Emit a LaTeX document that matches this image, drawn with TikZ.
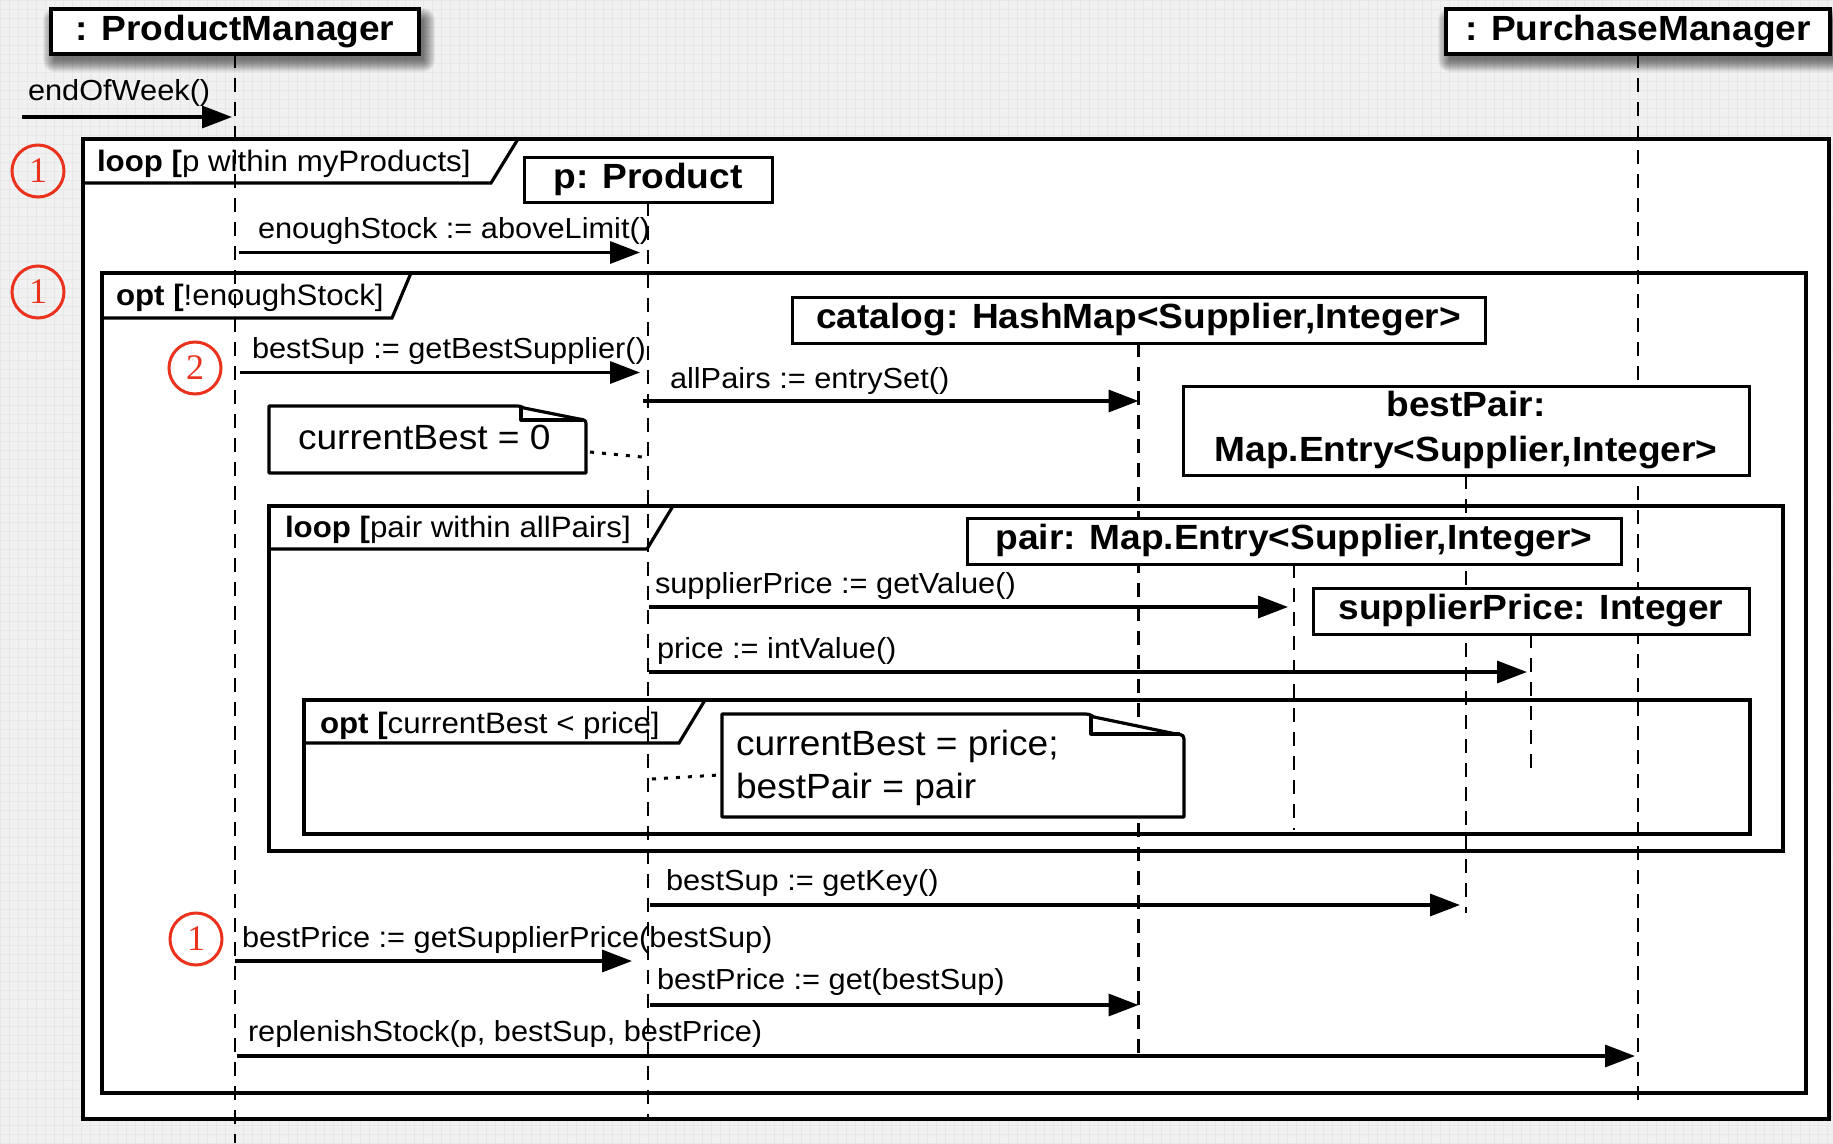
\documentclass[tikz,border=0pt]{standalone}
\usepackage{fontspec}
\setmainfont{Liberation Sans}[FakeStretch=1.06]
\newfontfamily\digitfont{Liberation Serif}
\usetikzlibrary{arrows.meta,calc}
\definecolor{bgcol}{RGB}{241,241,241}
\definecolor{gridcol}{RGB}{231,231,231}
\definecolor{markred}{RGB}{234,50,28}
\begin{document}
\begin{tikzpicture}[x=1pt,y=-1pt,
  every node/.style={inner sep=0pt,outer sep=0pt},
  actor/.style={draw,line width=3.2pt,fill=white,minimum height=45pt,
    font=\fontsize{35}{42}\selectfont\bfseries},
  object/.style={draw,line width=3pt,fill=white,minimum height=46pt,
    font=\fontsize{35}{45}\selectfont\bfseries},
  lifeline/.style={line width=2.6pt,dash pattern=on 14pt off 10pt},
  msg/.style={line width=3.4pt,-{Triangle[length=30pt,width=22pt]}},
  msglabel/.style={anchor=base west,font=\fontsize{29}{34}\selectfont},
  fragbox/.style={draw,line width=3.2pt,fill=white},
  tabline/.style={line width=3.2pt},
  fraglabel/.style={anchor=base west,font=\fontsize{29.5}{34}\selectfont},
  notebox/.style={draw=none},
  noteline/.style={line width=3.2pt,line join=round},
  notetext/.style={anchor=base west,font=\fontsize{35}{42}\selectfont},
  anchorline/.style={line width=3pt,dash pattern=on 4pt off 8pt},
  numbadge/.style={circle,draw=markred,line width=3pt,minimum size=52pt,
    text=markred,font=\fontsize{36}{36}\digitfont},
]
\useasboundingbox (0,0) rectangle (1833,1143);

% paper background with a faint grid
\fill[bgcol] (0,0) rectangle (1833,1143);
\foreach \gx in {0,9,...,1833} \draw[gridcol,line width=0.7pt] (\gx,0) -- (\gx,1143);
\foreach \gy in {0,9,...,1143} \draw[gridcol,line width=0.7pt] (0,\gy) -- (1833,\gy);

% soft shadows under the two actor heads
\foreach \k in {0,...,12} {
  \fill[black,opacity=0.05,rounded corners=\k pt] (55-\k,20-\k) rectangle (423+\k,60+\k);
  \fill[black,opacity=0.05,rounded corners=\k pt] (1450-\k,20-\k) rectangle (1834+\k,60+\k);
}

% combined fragments
\draw[fragbox] (83,139) rectangle (1829,1119);
\draw[tabline] (83,183) -- (491,183) -- (518,139);
\draw[fragbox] (102,273) rectangle (1806,1093);
\draw[tabline] (102,318) -- (392,318) -- (411,273);
\draw[fragbox] (269,506) rectangle (1783,851);
\draw[tabline] (269,549) -- (647,549) -- (673,506);
\draw[fragbox] (304,700) rectangle (1750,834);
\draw[tabline] (304,743) -- (679,743) -- (705,700);

\node[fraglabel] (f1l) at (97,171) {\textbf{loop [}p within myProducts]};
\node[fraglabel] (f2l) at (116,305) {\textbf{opt [}!enoughStock]};
\node[fraglabel] (f3l) at (285,537) {\textbf{loop [}pair within allPairs]};
\node[fraglabel] (f4l) at (320,733) {\textbf{opt [}currentBest < price]};

% participants (placed first so that lifelines can refer to them)
\node[actor,minimum width=368pt] (pm) at (235,31.5) {: ProductManager};
\node[actor,minimum width=384pt] (purch) at (1638,31.5) {: PurchaseManager};
\node[object,minimum width=248pt,minimum height=45pt] (prod) at (648,179.5) {p: Product};
\node[object,minimum width=693pt] (catalog) at (1138.5,320) {catalog: HashMap<Supplier,Integer>};
\node[object,minimum width=566pt,minimum height=89pt,align=center] (bestpair) at (1466,430.5) {bestPair:\\Map.Entry<Supplier,Integer>};
\node[object,minimum width=654pt] (pair) at (1294,541) {pair: Map.Entry<Supplier,Integer>};
\node[object,minimum width=436pt] (sprice) at (1531,611) {supplierPrice: Integer};

% lifelines
\draw[lifeline] (pm.south) -- (pm.south |- 0,1143);
\draw[lifeline] (purch.south) -- (purch.south |- 0,1100);
\draw[lifeline] (prod.south) -- (prod.south |- 0,1118);
\draw[lifeline] (catalog.south) -- (catalog.south |- 0,1055);
\draw[lifeline] (bestpair.south) -- (bestpair.south |- 0,913);
\draw[lifeline] (pair.south) -- (pair.south |- 0,830);
\draw[lifeline] (sprice.south) -- (sprice.south |- 0,775);

% redraw the heads over the lifelines that pass behind them
\node[object,minimum width=566pt,minimum height=89pt,align=center] (bestpairtop) at (1466,430.5) {bestPair:\\Map.Entry<Supplier,Integer>};
\node[object,minimum width=654pt] (pairtop) at (1294,541) {pair: Map.Entry<Supplier,Integer>};
\node[object,minimum width=436pt] (spricetop) at (1531,611) {supplierPrice: Integer};

% notes with a folded corner
\node[notebox,minimum width=317pt,minimum height=67pt] (n1) at (427.5,439.5) {};
\draw[noteline,fill=white] (n1.north west) -- ($(n1.north east)+(-72,0)$)
  .. controls ($(n1.north east)+(-66,0)$) .. ($(n1.north east)+(-62,2)$)
  -- ($(n1.north east)+(-7,13)$)
  .. controls ($(n1.north east)+(0,14)$) .. ($(n1.north east)+(0,21)$)
  -- (n1.south east) -- (n1.south west) -- cycle;
\draw[noteline] ($(n1.north east)+(-65,1)$) -- ($(n1.north east)+(-65,14)$) -- ($(n1.north east)+(-3,14)$);
\node[notetext] (n1t) at (298,449) {currentBest = 0};

\node[notebox,minimum width=462pt,minimum height=103pt] (n2) at (953,765.5) {};
\draw[noteline,fill=white] (n2.north west) -- ($(n2.north east)+(-102,0)$)
  .. controls ($(n2.north east)+(-95,0)$) .. ($(n2.north east)+(-90,3)$)
  -- ($(n2.north east)+(-8,20)$)
  .. controls ($(n2.north east)+(0,21)$) .. ($(n2.north east)+(0,29)$)
  -- (n2.south east) -- (n2.south west) -- cycle;
\draw[noteline] ($(n2.north east)+(-93,1)$) -- ($(n2.north east)+(-93,20)$) -- ($(n2.north east)+(-4,20)$);
\node[notetext] (n2a) at (736,755) {currentBest = price;};
\node[notetext] (n2b) at (736,798) {bestPair = pair};

\draw[anchorline] ([xshift=4pt]n1.east |- 0,452) -- ([xshift=-6pt]prod.south |- 0,457);
\draw[anchorline] ([xshift=4pt]prod.south |- 0,779) -- ([xshift=-3pt]n2.west |- 0,775);

% messages
\coordinate (entry) at (22,117);
\draw[msg] (entry) -- ([xshift=-3pt]pm.south |- 0,117);
\draw[msg] ([xshift=4pt]pm.south |- 0,252.5) -- ([xshift=-8pt]prod.south |- 0,252.5);
\draw[msg] ([xshift=5pt]pm.south |- 0,372.5) -- ([xshift=-8pt]prod.south |- 0,372.5);
\draw[msg] ([xshift=-5pt]prod.south |- 0,401) -- (catalog.south |- 0,401);
\draw[msg] ([xshift=1pt]prod.south |- 0,607) -- ([xshift=-6pt]pair.south |- 0,607);
\draw[msg] ([xshift=1pt]prod.south |- 0,672) -- ([xshift=-4pt]sprice.south |- 0,672);
\draw[msg] ([xshift=2pt]prod.south |- 0,905) -- ([xshift=-6pt]bestpair.south |- 0,905);
\draw[msg] (pm.south |- 0,961) -- ([xshift=-16pt]prod.south |- 0,961);
\draw[msg] ([xshift=2pt]prod.south |- 0,1005) -- (catalog.south |- 0,1005);
\draw[msg] ([xshift=2pt]pm.south |- 0,1056) -- ([xshift=-3pt]purch.south |- 0,1056);

\node[msglabel] (l1) at (28,100) {endOfWeek()};
\node[msglabel] (l2) at (258,238.5) {enoughStock := aboveLimit()};
\node[msglabel] (l3) at (252,358) {bestSup := getBestSupplier()};
\node[msglabel] (l4) at (670,388) {allPairs := entrySet()};
\node[msglabel] (l5) at (655,593) {supplierPrice := getValue()};
\node[msglabel] (l6) at (657,658) {price := intValue()};
\node[msglabel] (l7) at (666,890) {bestSup := getKey()};
\node[msglabel] (l8) at (242,947) {bestPrice := getSupplierPrice(bestSup)};
\node[msglabel] (l9) at (657,989) {bestPrice := get(bestSup)};
\node[msglabel] (l10) at (248,1041) {replenishStock(p, bestSup, bestPrice)};

% step markers
\node[numbadge] (c1) at (38,171) {1};
\node[numbadge] (c2) at (38,292) {1};
\node[numbadge] (c3) at (195,368) {2};
\node[numbadge] (c4) at (196,939) {1};
\end{tikzpicture}
\end{document}
